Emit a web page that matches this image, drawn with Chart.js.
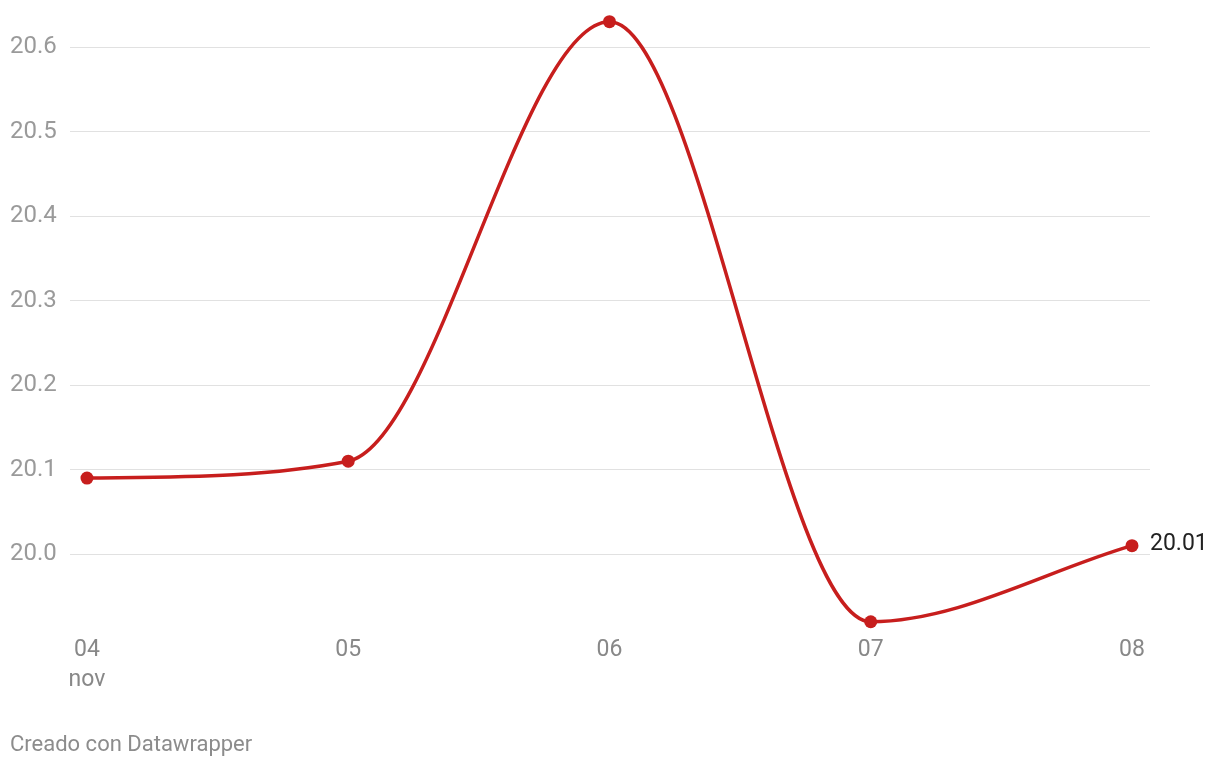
<!DOCTYPE html>
<html>
<head>
<meta charset="utf-8">
<script src="https://cdn.jsdelivr.net/npm/chart.js@4"></script>
<style>
  body { margin: 0; background: #fff; font-family: Roboto, sans-serif; }
  #wrap { position: relative; width: 1220px; height: 768px; }
  #footer { position: absolute; left: 10px; top: 731px; font-size: 22px; color: #8c8c8c; }
</style>
</head>
<body>
<div id="wrap">
  <canvas id="tempChart" width="1220" height="768"></canvas>
  <div id="footer">Creado con Datawrapper</div>
</div>
<script>
// data
var days = ['04', '05', '06', '07', '08'];
var monthLabel = 'nov';
var values = [20.09, 20.11, 20.63, 19.92, 20.01];
var yTicks = [20.0, 20.1, 20.2, 20.3, 20.4, 20.5, 20.6];

var lineColor = '#c71e1d';

// label on the last point
var endLabel = {
    id: 'endLabel',
    afterDatasetsDraw: function(chart) {
        var meta = chart.getDatasetMeta(0);
        var last = meta.data[meta.data.length - 1];
        var ctx = chart.ctx;
        ctx.save();
        ctx.font = '23px Roboto';
        ctx.fillStyle = '#222';
        ctx.textAlign = 'left';
        ctx.textBaseline = 'middle';
        ctx.fillText(values[values.length - 1].toFixed(2), last.x + 18, last.y - 1);
        ctx.restore();
    }
};

var ctx = document.getElementById('tempChart').getContext('2d');
var tempChart = new Chart(ctx, {
    type: 'line',
    data: {
        datasets: [{
            data: values.map(function(v, i) { return { x: i, y: v }; }),
            borderColor: lineColor,
            backgroundColor: lineColor,
            borderWidth: 3.5,
            pointRadius: 6.5,
            pointBorderWidth: 0,
            pointBackgroundColor: lineColor,
            cubicInterpolationMode: 'monotone',
            clip: false,
            fill: false
        }]
    },
    options: {
        responsive: false,
        animation: false,
        layout: {
            padding: { left: 10, right: 70, top: 5, bottom: 73 }
        },
        plugins: {
            legend: { display: false },
            tooltip: { enabled: false }
        },
        scales: {
            x: {
                type: 'linear',
                min: -0.065,
                max: 4.069,
                grid: { display: false, drawTicks: false },
                border: { display: false },
                afterBuildTicks: function(scale) {
                    scale.ticks = days.map(function(d, i) { return { value: i }; });
                },
                ticks: {
                    padding: 0,
                    maxRotation: 0,
                    autoSkip: false,
                    color: '#888',
                    font: { family: 'Roboto', size: 23, lineHeight: 1.3 },
                    callback: function(value) {
                        return value === 0 ? [days[0], monthLabel] : days[value];
                    }
                }
            },
            y: {
                min: 19.9041,
                max: 20.6386,
                grid: { color: '#e1e1e1', lineWidth: 1, drawTicks: false },
                border: { display: false },
                afterBuildTicks: function(scale) {
                    scale.ticks = yTicks.map(function(v) { return { value: v }; });
                },
                afterFit: function(scale) {
                    scale.width = 60;
                },
                ticks: {
                    crossAlign: 'far',
                    padding: 0,
                    color: '#9a9a9a',
                    font: { family: 'Roboto', size: 24 },
                    callback: function(value) {
                        return value.toFixed(1);
                    }
                }
            }
        }
    },
    plugins: [endLabel]
});
</script>
</body>
</html>
